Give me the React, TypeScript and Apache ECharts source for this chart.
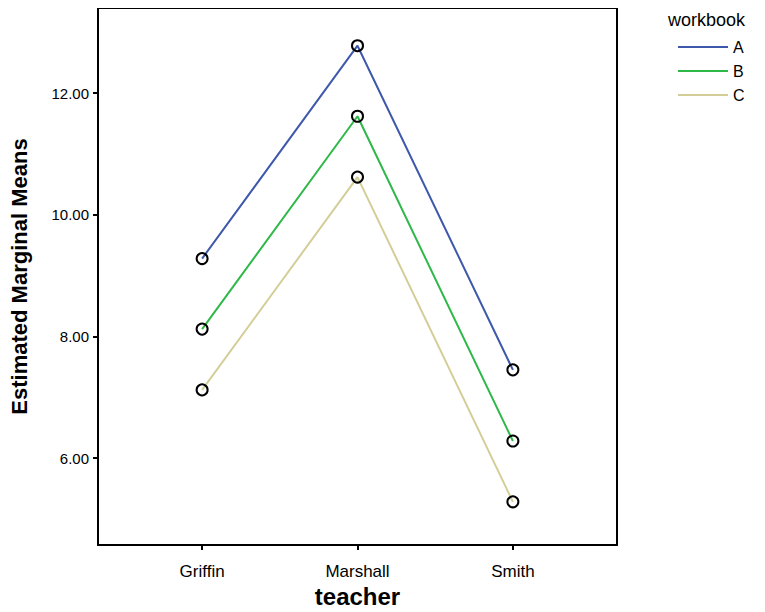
import React, { useEffect, useRef } from "react";
import * as echarts from "echarts";

const teachers = ["Griffin", "Marshall", "Smith"];
const workbooks = ["A", "B", "C"];
const seriesA = [9.28, 12.78, 7.45];
const seriesB = [8.12, 11.62, 6.28];
const seriesC = [7.12, 10.62, 5.28];
const yTicks = [6, 8, 10, 12];
const colors = ["#3E58AC", "#2EB848", "#D3CE97"];

export default function App() {
  const ref = useRef<HTMLDivElement>(null);
  useEffect(() => {
    const chart = echarts.init(ref.current!, null, { renderer: "svg" });
    const all = [seriesA, seriesB, seriesC];
    const font = "'Liberation Sans', Arial, sans-serif";
    chart.setOption({
      animation: false,
      backgroundColor: "#ffffff",
      textStyle: { fontFamily: font },
      title: {
        text: "workbook",
        left: 660,
        top: 3,
        padding: 0,
        textStyle: { fontFamily: font, fontSize: 18, fontWeight: "normal", color: "#000" },
      },
      legend: {
        orient: "vertical",
        left: 670,
        top: 31,
        padding: 0,
        itemWidth: 50,
        itemHeight: 2,
        itemGap: 8,
        textStyle: { fontFamily: font, fontSize: 16, color: "#000" },
        data: workbooks.map((w, i) => ({
          name: w,
          icon: "rect",
          itemStyle: { color: colors[i], borderWidth: 0 },
        })),
      },
      grid: {
        left: 90,
        top: 0,
        width: 519,
        height: 537,
        show: true,
        borderColor: "#000",
        borderWidth: 2,
        backgroundColor: "transparent",
        containLabel: false,
        outerBoundsMode: "none",
      },
      xAxis: {
        type: "value",
        min: -0.67,
        max: 2.67,
        name: "teacher",
        nameLocation: "middle",
        nameGap: 39,
        nameTextStyle: { fontFamily: font, fontSize: 24, fontWeight: "bold", color: "#000" },
        axisLine: { show: true, onZero: false, lineStyle: { color: "#000", width: 2 } },
        axisTick: { show: true, customValues: [0, 1, 2], length: 5, lineStyle: { color: "#000", width: 2 } },
        axisLabel: {
          customValues: [0, 1, 2],
          formatter: (v: number) => teachers[Math.round(v)] ?? "",
          fontFamily: font,
          fontSize: 17,
          color: "#000",
          margin: 18,
        },
        splitLine: { show: false },
      },
      yAxis: {
        type: "value",
        min: 4.57,
        max: 13.4,
        name: "Estimated Marginal Means",
        nameLocation: "middle",
        nameGap: 68,
        nameTextStyle: { fontFamily: font, fontSize: 22, fontWeight: "bold", color: "#000" },
        axisLine: { show: true, onZero: false, lineStyle: { color: "#000", width: 2 } },
        axisTick: { show: true, customValues: yTicks, length: 5, lineStyle: { color: "#000", width: 2 } },
        axisLabel: {
          customValues: yTicks,
          formatter: (v: number) => v.toFixed(2),
          fontFamily: font,
          fontSize: 15,
          color: "#000",
          margin: 9,
        },
        splitLine: { show: false },
      },
      series: workbooks.map((w, i) => ({
        name: w,
        type: "line",
        data: all[i].map((v, j) => [j, v]),
        symbol: "circle",
        symbolSize: 11,
        lineStyle: { color: colors[i], width: 2 },
        itemStyle: { color: "rgba(255,255,255,0)", borderColor: "#000", borderWidth: 2 },
        z: 3 - i,
      })),
    });
    return () => chart.dispose();
  }, []);
  return <div ref={ref} style={{ width: 757, height: 604 }} />;
}
